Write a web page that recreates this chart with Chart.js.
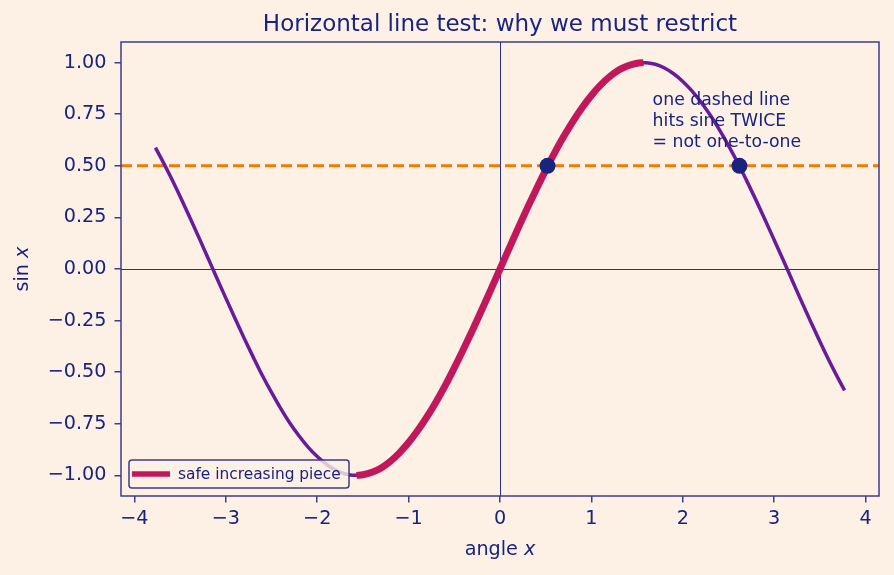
<!DOCTYPE html>
<html><head><meta charset="utf-8">
<script src="https://cdn.jsdelivr.net/npm/chart.js@4.4.1/dist/chart.umd.min.js"></script>
<style>html,body{margin:0;padding:0;background:#fdf1e6;}#wrap{width:894px;height:575px;}</style>
</head><body><div id="wrap"><canvas id="c" width="894" height="575"></canvas></div>
<script>
const curveX = [-3.77,-3.7,-3.6,-3.5,-3.4,-3.3,-3.2,-3.1,-3.0,-2.9,-2.8,-2.7,-2.6,-2.5,-2.4,-2.3,-2.2,-2.1,-2.0,-1.9,-1.8,-1.7,-1.6,-1.57,-1.5,-1.4,-1.3,-1.2,-1.1,-1.0,-0.9,-0.8,-0.7,-0.6,-0.5,-0.4,-0.3,-0.2,-0.1,0,0.1,0.2,0.3,0.4,0.5,0.6,0.7,0.8,0.9,1.0,1.1,1.2,1.3,1.4,1.5,1.57,1.6,1.7,1.8,1.9,2.0,2.1,2.2,2.3,2.4,2.5,2.6,2.7,2.8,2.9,3.0,3.1,3.2,3.3,3.4,3.5,3.6,3.7,3.77];
const curveY = [0.588,0.530,0.443,0.351,0.256,0.158,0.058,-0.042,-0.141,-0.239,-0.335,-0.427,-0.516,-0.598,-0.675,-0.746,-0.808,-0.863,-0.909,-0.946,-0.974,-0.992,-1.000,-1.000,-0.997,-0.985,-0.964,-0.932,-0.891,-0.841,-0.783,-0.717,-0.644,-0.565,-0.479,-0.389,-0.296,-0.199,-0.100,0,0.100,0.199,0.296,0.389,0.479,0.565,0.644,0.717,0.783,0.841,0.891,0.932,0.964,0.985,0.997,1.000,1.000,0.992,0.974,0.946,0.909,0.863,0.808,0.746,0.675,0.598,0.516,0.427,0.335,0.239,0.141,0.042,-0.058,-0.158,-0.256,-0.351,-0.443,-0.530,-0.588];
const safeFrom = -1.57, safeTo = 1.57;
const hitX = [0.52, 2.62];
const hitY = [0.5, 0.5];
const hLineY = 0.5;
const xTicks = [-4,-3,-2,-1,0,1,2,3,4];
const yTicks = [-1,-0.75,-0.5,-0.25,0,0.25,0.5,0.75,1];
const xRange = [-4.147, 4.147];
const yRange = [-1.1, 1.1];
const titleText = 'Horizontal line test: why we must restrict';
const noteLines = ['one dashed line','hits sine TWICE','= not one-to-one'];
const noteAt = [1.67, 0.815];
const legendLabel = 'safe increasing piece';

const NAVY = '#1a237e', SPINE = '#3d3d8a', PURPLE = '#6a1b9a', CRIMSON = '#c2185b', ORANGE = '#ef7c00', BG = '#fdf1e6';
const FONT = 'DejaVu Sans';

const full = curveX.map((x,i)=>({x, y: curveY[i]}));
const safe = full.filter(p => p.x >= safeFrom && p.x <= safeTo);
const hits = hitX.map((x,i)=>({x, y: hitY[i]}));
const fmt = v => (v < 0 ? '\u2212' : '') + Math.abs(v).toFixed(2);
const fmtX = v => (v < 0 ? '\u2212' : '') + Math.abs(v);

function mixed(ctx, parts, size, cx, cy){
  const ws = parts.map(p => { ctx.font = `${p[1] ? 'oblique ' : ''}${size}px ${FONT}`; return ctx.measureText(p[0]).width; });
  let x = cx - ws.reduce((a,b)=>a+b,0)/2;
  ctx.textAlign = 'left';
  parts.forEach((p,i) => { ctx.font = `${p[1] ? 'oblique ' : ''}${size}px ${FONT}`; ctx.fillText(p[0], x, cy); x += ws[i]; });
}

const deco = {
  id: 'deco',
  beforeDraw(chart){
    const c = chart.ctx; c.save(); c.fillStyle = BG; c.fillRect(0,0,chart.width,chart.height); c.restore();
  },
  beforeDatasetsDraw(chart){
    const {ctx, chartArea: a, scales:{x, y}} = chart;
    ctx.save();
    ctx.strokeStyle = '#2a2f8a'; ctx.lineWidth = 1;
    const x0 = Math.round(x.getPixelForValue(0))+0.5, y0 = Math.round(y.getPixelForValue(0))+0.5;
    ctx.beginPath(); ctx.moveTo(x0, a.top); ctx.lineTo(x0, a.bottom); ctx.stroke();
    ctx.beginPath(); ctx.moveTo(a.left, y0); ctx.lineTo(a.right, y0); ctx.stroke();
    ctx.restore();
  },
  afterDraw(chart){
    const {ctx, chartArea: a, scales:{x, y}} = chart;
    ctx.save();
    ctx.strokeStyle = SPINE; ctx.lineWidth = 1.5;
    ctx.strokeRect(a.left, a.top, a.right - a.left, a.bottom - a.top);
    ctx.fillStyle = NAVY; ctx.textBaseline = 'middle';
    mixed(ctx, [[titleText, false]], 23, (a.left + a.right)/2, 25);
    mixed(ctx, [['angle ', false], ['x', true]], 19.2, (a.left + a.right)/2, 550);
    ctx.save();
    ctx.translate(23, (a.top + a.bottom)/2); ctx.rotate(-Math.PI/2);
    mixed(ctx, [['sin ', false], ['x', true]], 19.2, 0, 0);
    ctx.restore();
    // note
    ctx.font = `17.3px ${FONT}`; ctx.textAlign = 'left'; ctx.textBaseline = 'middle';
    const nx = x.getPixelForValue(noteAt[0]), ny = y.getPixelForValue(noteAt[1]);
    noteLines.forEach((l, i) => ctx.fillText(l, nx, ny + i * 21));
    // legend
    const lx = 129, ly = 460, lw = 220, lh = 28;
    ctx.fillStyle = 'rgba(253,241,230,0.8)';
    ctx.beginPath(); ctx.roundRect(lx, ly, lw, lh, 3); ctx.fill();
    ctx.strokeStyle = SPINE; ctx.lineWidth = 1.5; ctx.stroke();
    ctx.strokeStyle = CRIMSON; ctx.lineWidth = 5.5;
    ctx.beginPath(); ctx.moveTo(lx + 3, ly + lh/2); ctx.lineTo(lx + 41, ly + lh/2); ctx.stroke();
    ctx.fillStyle = NAVY; ctx.font = `15.4px ${FONT}`;
    ctx.fillText(legendLabel, lx + 49, ly + lh/2 + 1);
    ctx.restore();
  }
};

new Chart(document.getElementById('c'), {
  type: 'line',
  data: {
    datasets: [
      { label: 'hline', data: [{x: xRange[0], y: hLineY}, {x: xRange[1], y: hLineY}], borderColor: ORANGE, borderWidth: 3, borderDash: [11, 5], pointRadius: 0, order: 4 },
      { label: 'sine', data: full, borderColor: PURPLE, borderWidth: 3.5, pointRadius: 0, cubicInterpolationMode: 'monotone', order: 3 },
      { label: legendLabel, data: safe, borderColor: CRIMSON, borderWidth: 7, pointRadius: 0, cubicInterpolationMode: 'monotone', borderCapStyle: 'butt', order: 2 },
      { label: 'hits', data: hits, showLine: false, pointRadius: 8, pointBackgroundColor: NAVY, pointBorderColor: NAVY, pointBorderWidth: 0, order: 1 }
    ]
  },
  options: {
    responsive: false, animation: false, devicePixelRatio: 1,
    layout: { padding: { top: 42, right: 15, left: 0, bottom: 0 } },
    plugins: { legend: { display: false }, tooltip: { enabled: false }, title: { display: false } },
    scales: {
      x: {
        type: 'linear', min: xRange[0], max: xRange[1],
        afterBuildTicks: s => { s.ticks = xTicks.map(v => ({value: v})); },
        afterFit: s => { s.height = 79; },
        grid: { drawOnChartArea: false, drawTicks: true, tickLength: 6.5, color: SPINE, lineWidth: 1.5 },
        border: { display: false },
        ticks: { color: NAVY, font: { family: FONT, size: 19.2 }, padding: 5, maxRotation: 0, autoSkip: false, callback: v => fmtX(v) }
      },
      y: {
        type: 'linear', min: yRange[0], max: yRange[1],
        afterBuildTicks: s => { s.ticks = yTicks.map(v => ({value: v})); },
        afterFit: s => { s.width = 121; },
        grid: { drawOnChartArea: false, drawTicks: true, tickLength: 6.5, color: SPINE, lineWidth: 1.5 },
        border: { display: false },
        ticks: { color: NAVY, font: { family: FONT, size: 19.2 }, padding: 8, autoSkip: false, callback: v => fmt(v) }
      }
    }
  },
  plugins: [deco]
});
</script></body></html>
